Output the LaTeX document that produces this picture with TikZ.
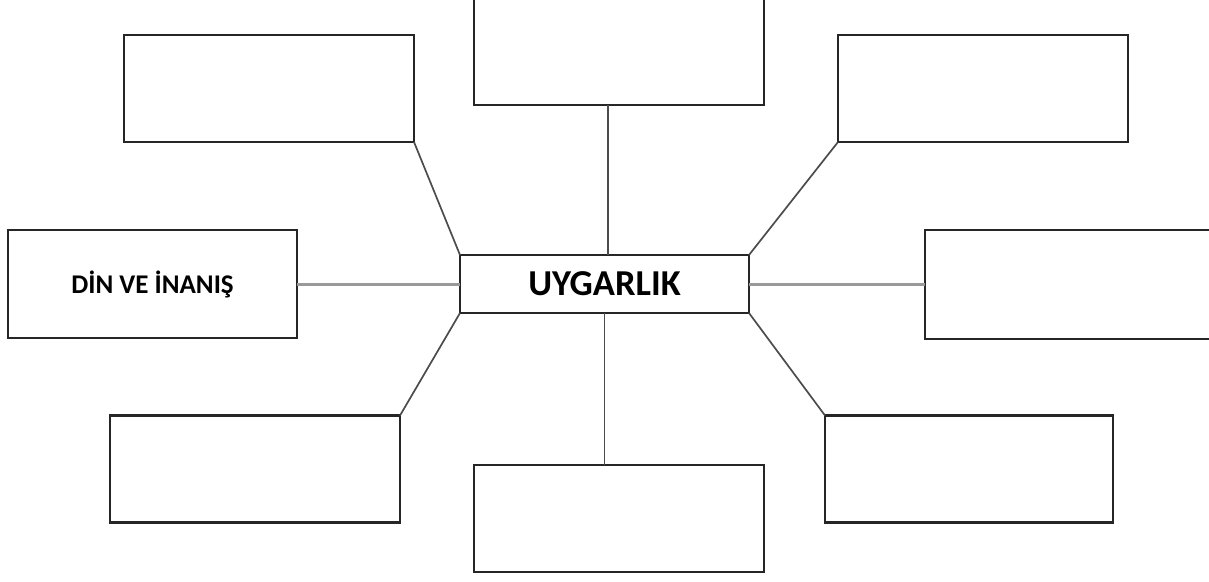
\documentclass[tikz,border=0pt]{standalone}
\usepackage{fontspec}
\setmainfont{Carlito}
\usetikzlibrary{calc}
\tikzset{topicbox/.style={draw=black!85, line width=2.2pt, fill=white, inner sep=0pt, outer sep=0pt,
 minimum width=290pt, minimum height=107pt, font=\bfseries\fontsize{27}{32}\selectfont},
 mainbox/.style={topicbox, minimum width=289pt, minimum height=58pt, font=\bfseries\fontsize{36.5}{42}\selectfont},
 spoke/.style={draw=black!70, line width=1.7pt},
 flatspoke/.style={draw=black!40, line width=3pt}}

\begin{document}
\begin{tikzpicture}[x=1pt,y=-1pt]
\useasboundingbox (0,0) rectangle (1209,581);
\clip (0,0) rectangle (1209,581);
% spokes drawn after the boxes
\node[mainbox] (c) at (604.5,284) {UYGARLIK};
\node[topicbox] (tl) at (269,88.5) {};
\node[topicbox] (tc) at (619,51.5) {};
\node[topicbox] (tr) at (983,88.5) {};
\node[topicbox, minimum width=289pt, minimum height=108pt] (l) at (152.5,284) {D\.{I}N VE \.{I}NANI\c{S}};
\node[topicbox, minimum width=310pt, minimum height=109pt] (r) at (1080,284.5) {};
\node[topicbox] (bl) at (255,469) {};
\node[topicbox] (bc) at (619,518.5) {};
\node[topicbox, minimum width=288pt] (br) at (969,469) {};
\draw[spoke] ([xshift=3.5pt]c.north) -- ([xshift=3.5pt]c.north |- tc.south);
\draw[spoke] (c.south) -- (c.south |- bc.north);
\draw[spoke] (c.north west) -- (tl.south east);
\draw[spoke] (c.north east) -- (tr.south west);
\draw[spoke] (c.south west) -- (bl.north east);
\draw[spoke] (c.south east) -- (br.north west);
\draw[flatspoke] (l.east |- c.west) -- (c.west);
\draw[flatspoke] (c.east) -- (c.east -| r.west);
\end{tikzpicture}
\end{document}
